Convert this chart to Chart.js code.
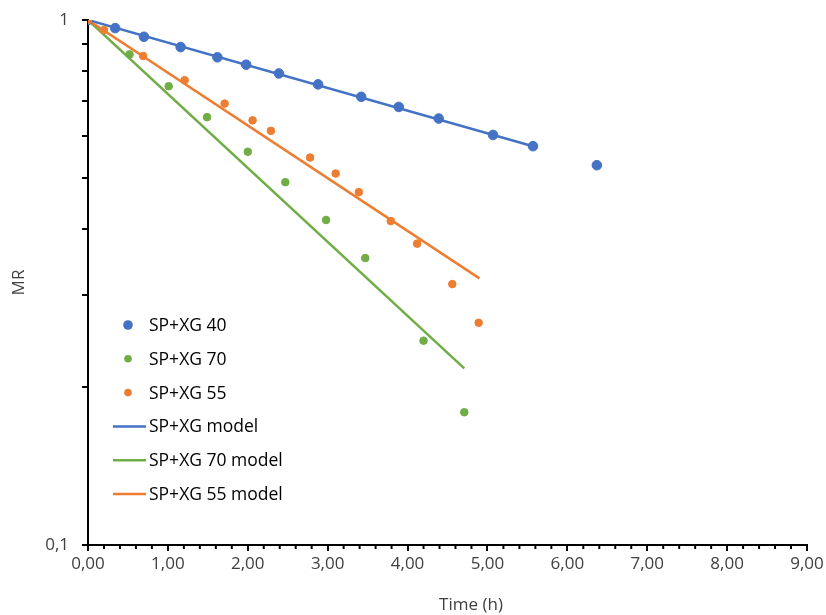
<!DOCTYPE html>
<html>
<head>
<meta charset="utf-8">
<script src="https://cdn.jsdelivr.net/npm/chart.js@4"></script>
<style>
  html, body { margin: 0; padding: 0; background: #fff; }
  canvas { display: block; }
</style>
</head>
<body>
<canvas id="chart" width="826" height="615"></canvas>
<script>
// measured series (time in h, moisture ratio)
const time40 = [0, 0.34, 0.7, 1.16, 1.62, 1.98, 2.39, 2.88, 3.42, 3.89, 4.39, 5.07, 5.57, 6.37];
const mr40 = [1, 0.965, 0.929, 0.888, 0.849, 0.822, 0.791, 0.754, 0.714, 0.683, 0.649, 0.604, 0.575, 0.529];

const time70 = [0, 0.52, 1.01, 1.49, 2.0, 2.47, 2.98, 3.47, 4.2, 4.71];
const mr70 = [1, 0.860, 0.748, 0.653, 0.561, 0.491, 0.416, 0.352, 0.245, 0.179];

const time55 = [0, 0.2, 0.69, 1.21, 1.71, 2.06, 2.29, 2.78, 3.1, 3.39, 3.79, 4.12, 4.56, 4.89];
const mr55 = [1, 0.957, 0.854, 0.768, 0.693, 0.644, 0.615, 0.547, 0.510, 0.470, 0.414, 0.375, 0.314, 0.265];

// model lines at their ends
const timeModel40 = [0, 5.57];
const mrModel40 = [1, 0.575];
const timeModel70 = [0, 4.71];
const mrModel70 = [1, 0.217];
const timeModel55 = [0, 4.9];
const mrModel55 = [1, 0.322];

const xTicks = [0, 1, 2, 3, 4, 5, 6, 7, 8, 9];
const yTicks = [0.1, 0.2, 0.3, 0.4, 0.5, 0.6, 0.7, 0.8, 0.9, 1];

const BLUE = "#4472C4";
const ORANGE = "#ED7D31";
const GREEN = "#70AD47";
const TEXT = "#404040";
const FONT = "'Open Sans', sans-serif";

function pairs(xs, ys) {
    return xs.map((x, i) => ({ x: x, y: ys[i] }));
}

// minor ticks on the time axis, every 0.2 h
const minorTicks = {
    id: "minorTicks",
    afterDraw(chart) {
        const ctx = chart.ctx;
        const x = chart.scales.x;
        ctx.save();
        ctx.strokeStyle = "#000";
        ctx.lineWidth = 2;
        for (let i = 0; i <= 45; i++) {
            if (i % 5 === 0) continue;
            const px = x.getPixelForValue(i * 0.2);
            ctx.beginPath();
            ctx.moveTo(px, x.top);
            ctx.lineTo(px, x.top + 4);
            ctx.stroke();
        }
        // x axis title sits a bit right of the plot centre, like the original
        ctx.font = "17px " + FONT;
        ctx.fillStyle = TEXT;
        ctx.textAlign = "center";
        ctx.textBaseline = "middle";
        ctx.fillText("Time (h)", 471, 605);
        ctx.restore();
    }
};

// legend drawn inside the plot, Excel style
const insideLegend = {
    id: "insideLegend",
    afterDraw(chart) {
        const ctx = chart.ctx;
        const left = 113;
        const top = 325;
        const step = 33.8;
        ctx.save();
        ctx.font = "17.5px " + FONT;
        ctx.textBaseline = "middle";
        chart.data.datasets.forEach((ds, i) => {
            const y = top + i * step;
            if (ds.showLine) {
                ctx.strokeStyle = ds.borderColor;
                ctx.lineWidth = 2.5;
                ctx.beginPath();
                ctx.moveTo(left, y);
                ctx.lineTo(left + 33, y);
                ctx.stroke();
            } else {
                ctx.fillStyle = ds.backgroundColor;
                ctx.beginPath();
                ctx.arc(left + 15, y, ds.pointRadius, 0, Math.PI * 2);
                ctx.fill();
            }
            ctx.fillStyle = "#000";
            ctx.fillText(ds.label, left + 36, y + 1);
        });
        ctx.restore();
    }
};

new Chart(document.getElementById("chart"), {
    type: "scatter",
    data: {
        datasets: [
            { label: "SP+XG 40", data: pairs(time40, mr40), backgroundColor: BLUE, borderColor: BLUE, pointRadius: 4.8, order: 2 },
            { label: "SP+XG 70", data: pairs(time70, mr70), backgroundColor: GREEN, borderColor: GREEN, pointRadius: 3.8, order: 1 },
            { label: "SP+XG 55", data: pairs(time55, mr55), backgroundColor: ORANGE, borderColor: ORANGE, pointRadius: 3.8, order: 0 },
            { label: "SP+XG model", data: pairs(timeModel40, mrModel40), showLine: true, borderColor: BLUE, backgroundColor: BLUE, borderWidth: 2.5, pointRadius: 0, order: 5 },
            { label: "SP+XG 70 model", data: pairs(timeModel70, mrModel70), showLine: true, borderColor: GREEN, backgroundColor: GREEN, borderWidth: 2.5, pointRadius: 0, order: 4 },
            { label: "SP+XG 55 model", data: pairs(timeModel55, mrModel55), showLine: true, borderColor: ORANGE, backgroundColor: ORANGE, borderWidth: 2.5, pointRadius: 0, order: 3 }
        ]
    },
    options: {
        responsive: false,
        animation: false,
        layout: { padding: { top: 20, right: 19, left: 0, bottom: 0 } },
        plugins: {
            legend: { display: false },
            tooltip: { enabled: false }
        },
        scales: {
            x: {
                type: "linear",
                min: 0,
                max: 9,
                afterBuildTicks: (scale) => { scale.ticks = xTicks.map(v => ({ value: v })); },
                afterFit: (scale) => { scale.height = 70; scale.paddingRight = 0; },
                border: { color: "#000", width: 2 },
                grid: { drawOnChartArea: false, color: "#000", lineWidth: 2, tickLength: 6 },
                ticks: {
                    color: TEXT,
                    font: { family: FONT, size: 17 },
                    padding: 3,
                    maxRotation: 0,
                    callback: (v) => v.toFixed(2).replace(".", ",")
                }
            },
            y: {
                type: "logarithmic",
                min: 0.1,
                max: 1,
                afterBuildTicks: (scale) => { scale.ticks = yTicks.map(v => ({ value: v })); },
                afterFit: (scale) => { scale.width = 88; scale.paddingTop = 0; scale.paddingBottom = 0; },
                border: { color: "#000", width: 2 },
                grid: { drawOnChartArea: false, color: "#000", lineWidth: 2, tickLength: 6 },
                ticks: {
                    color: TEXT,
                    font: { family: FONT, size: 17 },
                    padding: 13,
                    autoSkip: false,
                    callback: (v) => (v === 1 ? "1" : v === 0.1 ? "0,1" : "")
                },
                title: {
                    display: true,
                    text: "MR",
                    color: TEXT,
                    font: { family: FONT, size: 17 },
                    padding: { top: 9, bottom: 0 }
                }
            }
        }
    },
    plugins: [minorTicks, insideLegend]
});
</script>
</body>
</html>
